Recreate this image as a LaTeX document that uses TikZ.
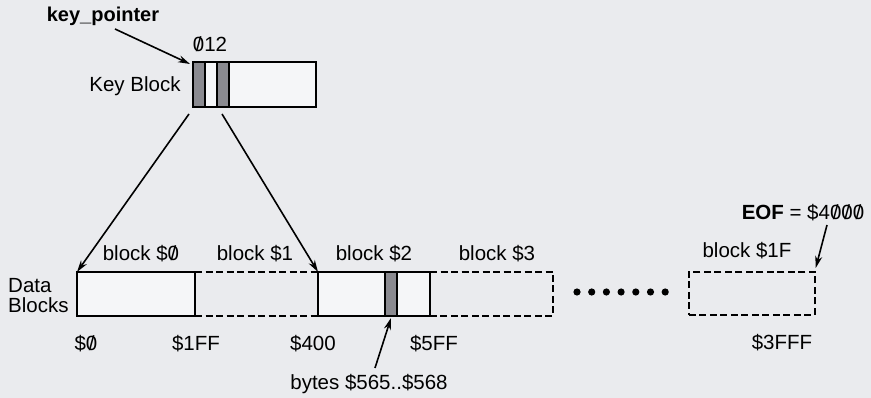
\documentclass[tikz,border=0pt]{standalone}
\usepackage{fontspec}
\setmainfont{Liberation Sans}
\usetikzlibrary{arrows.meta}
\newcommand{\slz}{\ooalign{0\cr\hidewidth/\hidewidth\cr}}
\definecolor{bg}{HTML}{EAEBEE}
\definecolor{boxfill}{HTML}{F5F6F8}
\definecolor{stripgray}{HTML}{8A8A90}
\begin{document}
\begin{tikzpicture}[x=1pt,y=-1pt,
  font=\fontsize{20.5}{22}\selectfont,
  blk/.style={draw, line width=2pt, fill=boxfill, anchor=north west, inner sep=0pt, outer sep=0pt},
  stripbox/.style={draw, line width=2pt, fill=stripgray, anchor=north west, inner sep=0pt, outer sep=0pt, minimum width=12pt},
  dashline/.style={line width=1.7pt, dash pattern=on 7pt off 3.5pt},
  ptr/.style={line width=1.6pt, -{Stealth[length=12pt,width=7pt]}},
  lbl/.style={inner sep=0pt}
]
\useasboundingbox (0,0) rectangle (871,398);
\fill[bg] (0,0) rectangle (871,398);

% key block
\node[blk, minimum width=123pt, minimum height=45pt] (kb) at (193,62) {};
\node[stripbox, minimum height=45pt] (ks1) at (193,62) {};
\node[stripbox, minimum height=45pt] (ks2) at (217,62) {};
\draw[line width=2pt] (kb.north west) rectangle (kb.south east);

% data blocks
\node[blk, minimum width=118pt, minimum height=44pt] (b0) at (77,272) {};
\node[blk, minimum width=112pt, minimum height=44pt] (b2) at (318,272) {};
\node[stripbox, minimum height=44pt] (bs) at (385,272) {};
\draw[line width=2pt] (b2.north west) rectangle (b2.south east);
\node[draw, dashline, anchor=north west, inner sep=0pt, minimum width=126pt, minimum height=43pt] (b1f) at (688,271) {};

\coordinate (b3ne) at (553,272);
\coordinate (b3se) at (553,316);
\draw[dashline] (b0.north east) -- (b2.north west);
\draw[dashline] (b0.south east) -- (b2.south west);
\draw[dashline] (b2.north east) -- (b3ne) -- (b3se) -- (b2.south east);

% dots
\foreach \i in {0,...,6} \fill (577+14.7*\i,292) circle (3.6pt);

% labels
\node[lbl, font=\fontsize{20}{22}\selectfont\bfseries] (kp) at (103,16) {key\_pointer};
\node[lbl] (l012) at (210,44) {\slz12};
\node[lbl] (lkb) at (135,86) {Key Block};
\node[lbl, align=left, anchor=west, font=\fontsize{20.5}{20}\selectfont] (ldb) at (8,296) {Data\\Blocks};
\node[lbl] (lb0) at (141,254) {block \$\slz};
\node[lbl] (lb1) at (255,254) {block \$1};
\node[lbl] (lb2) at (374,254) {block \$2};
\node[lbl] (lb3) at (497,254) {block \$3};
\node[lbl] (lb1f) at (747,251) {block \$1F};
\node[lbl] (leof) at (803,213) {\textbf{EOF} = \$4\slz\slz\slz};
\node[lbl] (a0) at (86,344) {\$\slz};
\node[lbl] (a1ff) at (196,344) {\$1FF};
\node[lbl] (a400) at (313,344) {\$400};
\node[lbl] (a5ff) at (434,344) {\$5FF};
\node[lbl] (a3fff) at (782,343) {\$3FFF};
\node[lbl] (lbytes) at (369,384) {bytes \$565..\$568};

% connectors
\coordinate (kpa) at (115,29);
\coordinate (kbl) at (189,114);
\coordinate (kbr) at (222,114);
\coordinate (eofa) at (827,225);
\coordinate (bya) at (375,368);
\draw[ptr] (kpa) -- ([shift={(-3,2)}]kb.north west);
\draw[ptr] (kbl) -- (b0.north west);
\draw[ptr] (kbr) -- (b2.north west);
\draw[ptr] (eofa) -- ([shift={(0,-3)}]b1f.north east);
\draw[ptr] (bya) -- ([shift={(0,2)}]bs.south);
\end{tikzpicture}
\end{document}
